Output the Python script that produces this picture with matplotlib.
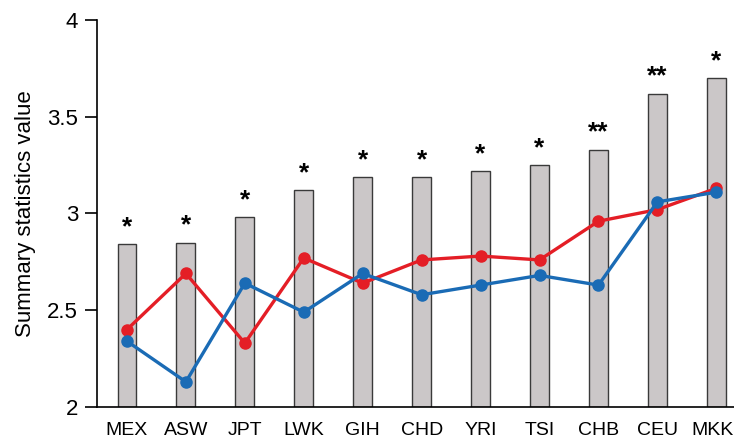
import numpy as np
import matplotlib.pyplot as plt
import matplotlib.transforms as mtransforms

plt.rcParams['font.family'] = ['Liberation Sans', 'DejaVu Sans']

# Populations, ordered by summary statistic
pops = ['MEX', 'ASW', 'JPT', 'LWK', 'GIH', 'CHD', 'YRI', 'TSI', 'CHB', 'CEU', 'MKK']
bar_vals = [2.84, 2.85, 2.98, 3.12, 3.19, 3.19, 3.22, 3.25, 3.33, 3.62, 3.70]
red_vals = [2.40, 2.69, 2.33, 2.77, 2.64, 2.76, 2.78, 2.76, 2.96, 3.02, 3.13]
blue_vals = [2.34, 2.13, 2.64, 2.49, 2.69, 2.58, 2.63, 2.68, 2.63, 3.06, 3.11]
stars = ['*', '*', '*', '*', '*', '*', '*', '*', '**', '**', '*']

x = np.arange(len(pops))

fig = plt.figure(figsize=(7.34, 4.38), dpi=100)
ax = fig.add_axes([0.132, 0.0708, 0.868, 0.8836])

ax.bar(x, np.array(bar_vals) - 2, bottom=2, width=0.32,
       color='#cbc7c8', edgecolor='#3a3a3a', linewidth=1.0, zorder=1)
ax.plot(x, red_vals, '-o', color='#e41e26', lw=2.4, ms=8, zorder=3)
ax.plot(x, blue_vals, '-o', color='#1a6bb5', lw=2.4, ms=8, zorder=3)

for xi, v, s in zip(x, bar_vals, stars):
    ax.text(xi, v + 0.025, s, ha='center', va='bottom', fontsize=19,
            fontweight='bold')

ax.set_xlim(-0.51, 10.3)
ax.set_ylim(2, 4)
ax.set_yticks([2, 2.5, 3, 3.5, 4])
ax.set_yticklabels(['2', '2.5', '3', '3.5', '4'])
ax.set_xticks(x)
ax.set_xticklabels(pops)
ax.tick_params(axis='y', direction='out', length=8.5, width=1.2, labelsize=16, pad=5)
ax.tick_params(axis='x', length=0, labelsize=14, pad=11)
ax.set_ylabel('Summary statistics value', fontsize=16, labelpad=8)

# keep the last label inside the figure edge
last = ax.get_xticklabels()[-1]
last.set_transform(last.get_transform() +
                   mtransforms.ScaledTranslation(-4 / 100, 0, fig.dpi_scale_trans))

ax.spines['top'].set_visible(False)
ax.spines['right'].set_visible(False)
ax.spines['left'].set_linewidth(1.2)
ax.spines['bottom'].set_linewidth(1.2)

fig.savefig('out.png', dpi=100)
